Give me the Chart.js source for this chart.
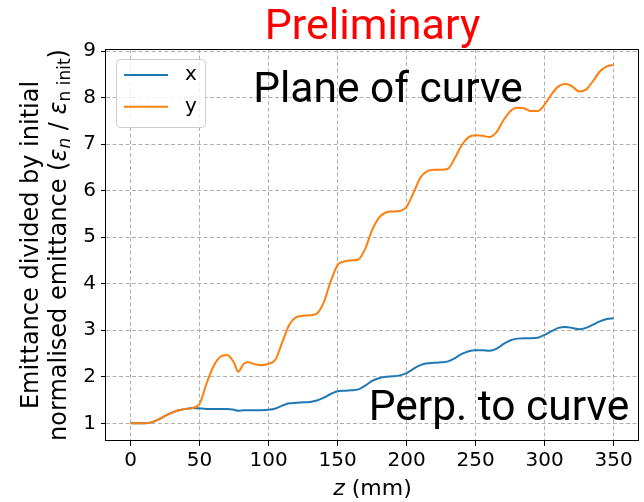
<!DOCTYPE html>
<html>
<head>
<meta charset="utf-8">
<script src="https://cdn.jsdelivr.net/npm/chart.js@4.4.1/dist/chart.umd.min.js"></script>
<style>
  html, body { margin: 0; padding: 0; background: #fff; }
  #wrap { width: 644px; height: 502px; position: relative; }
</style>
</head>
<body>
<div id="wrap"><canvas id="emittanceChart"></canvas></div>
<script>
// z position along the beamline (mm)
const zPositions = [
  0, 5, 10, 15, 20, 25, 30, 35, 40, 45, 50, 55, 60, 65, 70, 75, 78, 82,
  85, 90, 95, 100, 105, 110, 115, 120, 125, 130,
  135, 140, 145, 150, 155, 160, 165, 170, 175, 180,
  185, 190, 195, 200, 205, 210, 215, 220, 225, 230,
  235, 240, 245, 250, 255, 260, 265, 270, 275, 280,
  285, 290, 295, 300, 305, 310, 315, 320, 325, 330,
  335, 340, 345, 350
];

// emittance growth, x plane (perpendicular to curve)
const emitX = [
  1.00, 1.00, 1.00, 1.02, 1.08, 1.16, 1.23, 1.28, 1.31, 1.33, 1.32, 1.31, 1.31, 1.31, 1.31, 1.29, 1.27, 1.28,
  1.28, 1.28, 1.28, 1.29, 1.32, 1.38, 1.43, 1.44, 1.45, 1.46,
  1.49, 1.55, 1.63, 1.69, 1.70, 1.71, 1.73, 1.81, 1.91, 1.97,
  2.00, 2.01, 2.03, 2.08, 2.17, 2.25, 2.29, 2.30, 2.31, 2.33,
  2.40, 2.49, 2.55, 2.57, 2.57, 2.56, 2.60, 2.70, 2.78, 2.82,
  2.83, 2.83, 2.84, 2.90, 2.98, 3.05, 3.07, 3.05, 3.02, 3.05,
  3.12, 3.19, 3.24, 3.26
];

// emittance growth, y plane (plane of curve)
const emitY = [
  1.00, 1.00, 1.00, 1.02, 1.08, 1.16, 1.23, 1.28, 1.31, 1.33, 1.42, 1.85, 2.22, 2.43, 2.47, 2.30, 2.11, 2.28,
  2.31, 2.27, 2.25, 2.28, 2.37, 2.75, 3.12, 3.28, 3.31, 3.32,
  3.36, 3.60, 4.05, 4.40, 4.48, 4.50, 4.52, 4.75, 5.15, 5.42,
  5.53, 5.55, 5.56, 5.65, 5.95, 6.28, 6.42, 6.45, 6.45, 6.47,
  6.70, 6.98, 7.15, 7.19, 7.18, 7.15, 7.25, 7.50, 7.70, 7.78,
  7.77, 7.71, 7.71, 7.85, 8.07, 8.24, 8.29, 8.24, 8.13, 8.17,
  8.35, 8.56, 8.67, 8.70
];

const zTicks = [0, 50, 100, 150, 200, 250, 300, 350];
const emitTicks = [1, 2, 3, 4, 5, 6, 7, 8, 9];

const seriesLabels = ['x', 'y'];
const seriesColors = ['#1f77b4', '#ff7f0e'];

Chart.defaults.font.family = 'DejaVu Sans';
Chart.defaults.color = '#000';

// draw a run of text pieces (regular / italic / subscript) from x along the baseline
function drawRuns(ctx, runs, x, y) {
  runs.forEach(r => {
    ctx.font = r.font;
    ctx.fillText(r.text, x, y + (r.dy || 0));
    x += ctx.measureText(r.text).width;
  });
}

function runsWidth(ctx, runs) {
  let w = 0;
  runs.forEach(r => { ctx.font = r.font; w += ctx.measureText(r.text).width; });
  return w;
}

// frame, texts, legend and axis titles in matplotlib style
const decorPlugin = {
  id: 'decor',
  afterDraw(chart) {
    const { ctx, chartArea: a } = chart;
    const midX = (a.left + a.right) / 2;
    const midY = (a.top + a.bottom) / 2;
    ctx.save();

    // frame
    ctx.strokeStyle = '#000';
    ctx.lineWidth = 1;
    ctx.setLineDash([]);
    ctx.strokeRect(a.left - 0.5, a.top + 0.5, a.right - a.left, a.bottom - a.top - 1);

    // title
    ctx.fillStyle = '#ff0000';
    ctx.font = '43px Roboto';
    ctx.textAlign = 'center';
    ctx.textBaseline = 'alphabetic';
    ctx.fillText('Preliminary', midX, 39);

    // annotations
    ctx.fillStyle = '#000';
    ctx.font = '42.5px Roboto';
    ctx.fillText('Plane of curve', 388, 102);
    ctx.fillText('Perp. to curve', 499, 420);

    // legend
    const lx = 116.5, ly = 59.5, lw = 89, lh = 68;
    ctx.beginPath();
    ctx.roundRect(lx, ly, lw, lh, 4);
    ctx.fillStyle = 'rgba(255,255,255,0.8)';
    ctx.fill();
    ctx.strokeStyle = '#cccccc';
    ctx.stroke();
    chart.data.datasets.forEach((ds, i) => {
      const yy = 75 + i * 31.7;
      ctx.strokeStyle = ds.borderColor;
      ctx.lineWidth = 2;
      ctx.beginPath();
      ctx.moveTo(124, yy);
      ctx.lineTo(168, yy);
      ctx.stroke();
      ctx.fillStyle = '#000';
      ctx.font = '20px "DejaVu Sans"';
      ctx.textAlign = 'left';
      ctx.textBaseline = 'middle';
      ctx.fillText(ds.label, 185, yy);
    });

    // x axis title
    ctx.textAlign = 'left';
    ctx.textBaseline = 'alphabetic';
    const xRuns = [
      { text: 'z', font: 'italic 22px "DejaVu Sans"' },
      { text: ' (mm)', font: '22px "DejaVu Sans"' }
    ];
    drawRuns(ctx, xRuns, midX - runsWidth(ctx, xRuns) / 2, 495);

    // y axis title, two lines, rotated
    const fs = 24, sub = 17;
    const line1 = [{ text: 'Emittance divided by initial', font: fs + 'px "DejaVu Sans"' }];
    const line2 = [
      { text: 'normalised emittance (', font: fs + 'px "DejaVu Sans"' },
      { text: 'ε', font: 'italic ' + fs + 'px "DejaVu Sans"' },
      { text: 'n', font: 'italic ' + sub + 'px "DejaVu Sans"', dy: 4 },
      { text: ' / ', font: fs + 'px "DejaVu Sans"' },
      { text: 'ε', font: 'italic ' + fs + 'px "DejaVu Sans"' },
      { text: 'n init', font: sub + 'px "DejaVu Sans"', dy: 4 },
      { text: ')', font: fs + 'px "DejaVu Sans"' }
    ];
    ctx.translate(0, midY);
    ctx.rotate(-Math.PI / 2);
    drawRuns(ctx, line1, -runsWidth(ctx, line1) / 2, 38);
    drawRuns(ctx, line2, -runsWidth(ctx, line2) / 2, 66);

    ctx.restore();
  }
};

const ctx = document.getElementById('emittanceChart').getContext('2d');

const chart = new Chart(ctx, {
  type: 'line',
  data: {
    datasets: seriesLabels.map((label, i) => ({
      label: label,
      data: zPositions.map((z, k) => ({ x: z, y: (i === 0 ? emitX : emitY)[k] })),
      borderColor: seriesColors[i],
      backgroundColor: seriesColors[i],
      borderWidth: 2,
      pointRadius: 0,
      cubicInterpolationMode: 'monotone',
      order: i === 0 ? 1 : 0
    }))
  },
  options: {
    responsive: true,
    maintainAspectRatio: false,
    animation: false,
    devicePixelRatio: 1,
    layout: { padding: { left: 0, top: 49, right: 5, bottom: 0 } },
    plugins: {
      legend: { display: false },
      tooltip: { enabled: false },
      title: { display: false }
    },
    scales: {
      x: {
        type: 'linear',
        min: -17.8,
        max: 368.4,
        afterBuildTicks: s => { s.ticks = zTicks.map(v => ({ value: v })); },
        afterFit: s => { s.height = 61; },
        ticks: { font: { size: 20 }, padding: 3, maxRotation: 0, autoSkip: false },
        grid: {
          color: '#b0b0b0',
          lineWidth: 1,
          tickLength: 5,
          tickColor: '#000',
          tickWidth: 1,
          tickBorderDash: []
        },
        border: { display: false, dash: [4, 2.5] }
      },
      y: {
        min: 0.62,
        max: 9.043,
        afterBuildTicks: s => { s.ticks = emitTicks.map(v => ({ value: v })); },
        afterFit: s => { s.width = 106; },
        ticks: { font: { size: 20 }, padding: 5, autoSkip: false },
        grid: {
          color: '#b0b0b0',
          lineWidth: 1,
          tickLength: 5,
          tickColor: '#000',
          tickWidth: 1,
          tickBorderDash: []
        },
        border: { display: false, dash: [4, 2.5] }
      }
    }
  },
  plugins: [decorPlugin]
});
</script>
</body>
</html>
